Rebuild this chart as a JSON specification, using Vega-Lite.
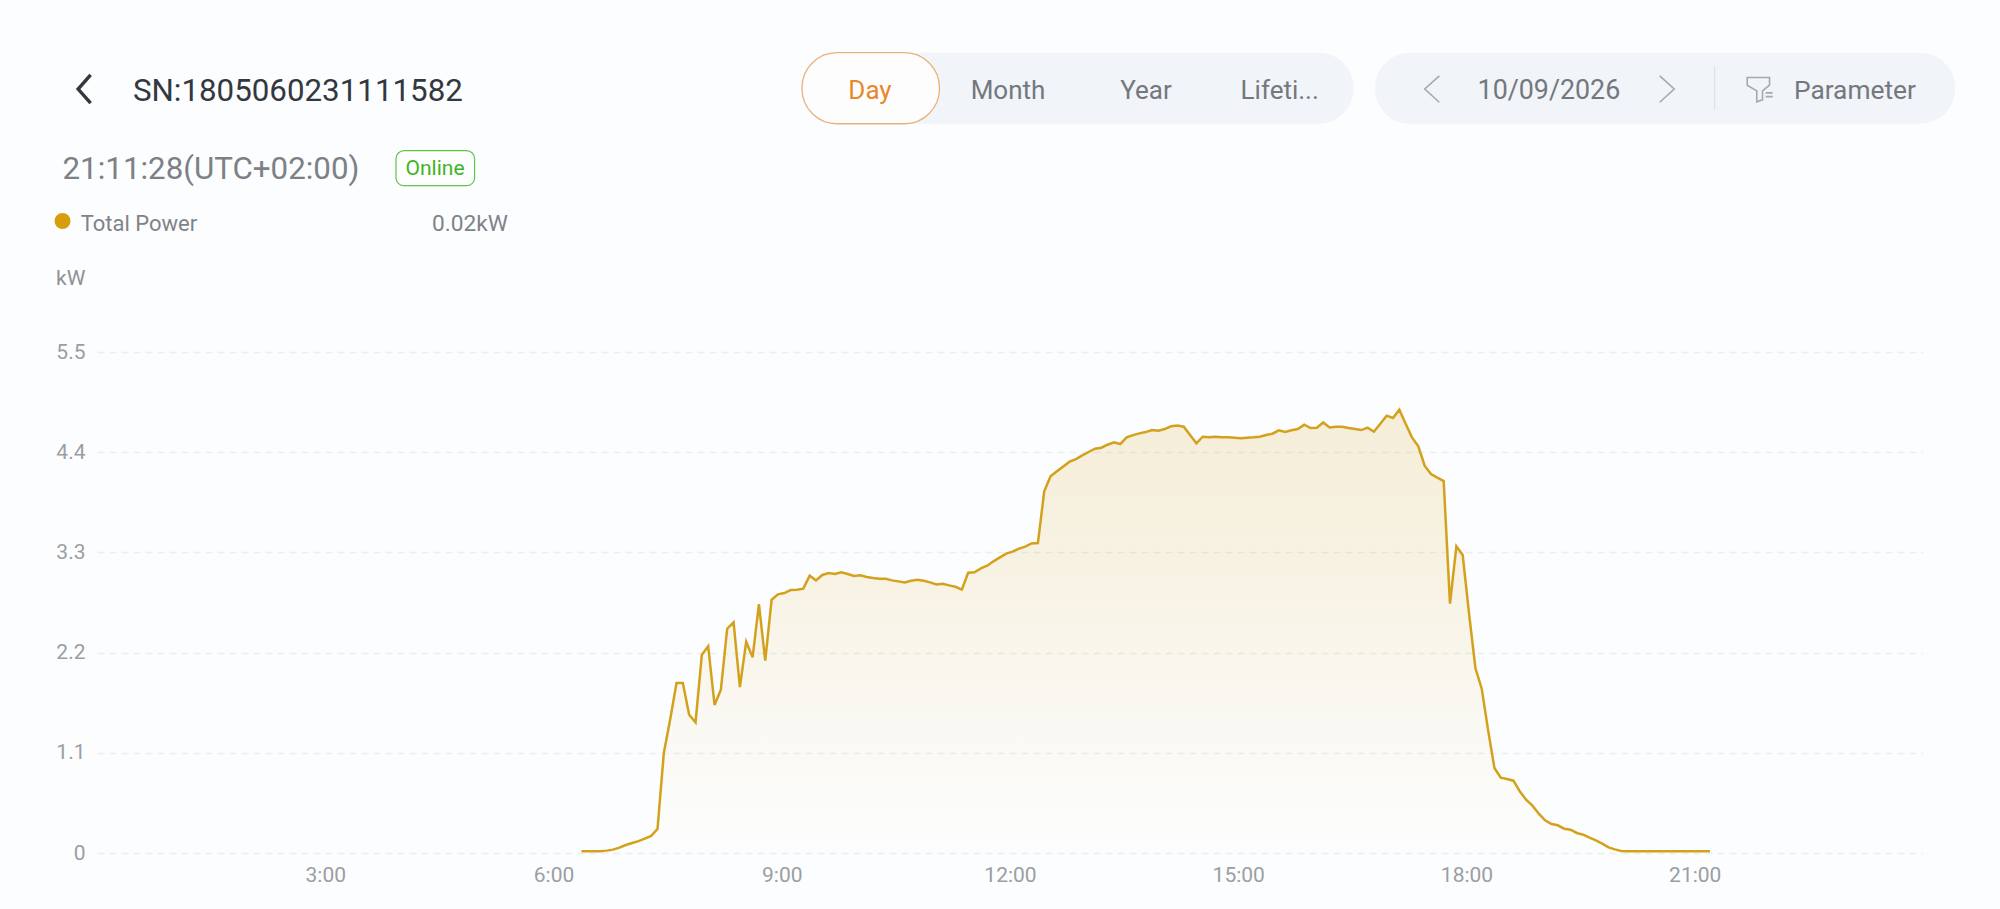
{"$schema":"https://vega.github.io/schema/vega-lite/v6.json","width":1826,"height":501,"autosize":"none","padding":{"left":97,"top":352,"right":77,"bottom":56},"background":"#fcfdfe","config":{"view":{"stroke":null},"text":{"font":"Roboto"},"axis":{"labelFont":"Roboto"}},
"datasets":{"power":[
{"hour":6.367,"kW":0.02},{"hour":6.45,"kW":0.02},{"hour":6.533,"kW":0.02},{"hour":6.617,"kW":0.02},{"hour":6.7,"kW":0.026},{"hour":6.783,"kW":0.037},{"hour":6.867,"kW":0.059},{"hour":6.95,"kW":0.088},{"hour":7.033,"kW":0.11},{"hour":7.117,"kW":0.13},{"hour":7.2,"kW":0.157},{"hour":7.283,"kW":0.187},
{"hour":7.367,"kW":0.263},{"hour":7.45,"kW":1.098},{"hour":7.533,"kW":1.464},{"hour":7.617,"kW":1.866},{"hour":7.7,"kW":1.866},{"hour":7.783,"kW":1.518},{"hour":7.867,"kW":1.434},{"hour":7.95,"kW":2.177},{"hour":8.033,"kW":2.269},{"hour":8.117,"kW":1.625},{"hour":8.2,"kW":1.793},{"hour":8.283,"kW":2.462},
{"hour":8.367,"kW":2.532},{"hour":8.45,"kW":1.822},{"hour":8.533,"kW":2.32},{"hour":8.617,"kW":2.148},{"hour":8.7,"kW":2.733},{"hour":8.783,"kW":2.111},{"hour":8.867,"kW":2.781},{"hour":8.95,"kW":2.839},{"hour":9.033,"kW":2.854},{"hour":9.117,"kW":2.887},{"hour":9.2,"kW":2.891},{"hour":9.283,"kW":2.902},
{"hour":9.367,"kW":3.044},{"hour":9.45,"kW":2.993},{"hour":9.533,"kW":3.052},{"hour":9.617,"kW":3.074},{"hour":9.7,"kW":3.063},{"hour":9.783,"kW":3.081},{"hour":9.867,"kW":3.063},{"hour":9.95,"kW":3.041},{"hour":10.033,"kW":3.048},{"hour":10.117,"kW":3.03},{"hour":10.2,"kW":3.019},{"hour":10.283,"kW":3.011},
{"hour":10.367,"kW":3.011},{"hour":10.45,"kW":2.993},{"hour":10.533,"kW":2.982},{"hour":10.617,"kW":2.971},{"hour":10.7,"kW":2.989},{"hour":10.783,"kW":3.0},{"hour":10.867,"kW":2.989},{"hour":10.95,"kW":2.971},{"hour":11.033,"kW":2.949},{"hour":11.117,"kW":2.956},{"hour":11.2,"kW":2.938},{"hour":11.283,"kW":2.923},
{"hour":11.367,"kW":2.891},{"hour":11.45,"kW":3.077},{"hour":11.533,"kW":3.081},{"hour":11.617,"kW":3.125},{"hour":11.7,"kW":3.154},{"hour":11.783,"kW":3.202},{"hour":11.867,"kW":3.245},{"hour":11.95,"kW":3.286},{"hour":12.033,"kW":3.308},{"hour":12.117,"kW":3.341},{"hour":12.2,"kW":3.363},{"hour":12.283,"kW":3.399},
{"hour":12.367,"kW":3.403},{"hour":12.45,"kW":3.97},{"hour":12.533,"kW":4.135},{"hour":12.617,"kW":4.19},{"hour":12.7,"kW":4.244},{"hour":12.783,"kW":4.296},{"hour":12.867,"kW":4.325},{"hour":12.95,"kW":4.365},{"hour":13.033,"kW":4.402},{"hour":13.117,"kW":4.438},{"hour":13.2,"kW":4.449},{"hour":13.283,"kW":4.482},
{"hour":13.367,"kW":4.508},{"hour":13.45,"kW":4.49},{"hour":13.533,"kW":4.563},{"hour":13.617,"kW":4.588},{"hour":13.7,"kW":4.607},{"hour":13.783,"kW":4.621},{"hour":13.867,"kW":4.643},{"hour":13.95,"kW":4.636},{"hour":14.033,"kW":4.654},{"hour":14.117,"kW":4.684},{"hour":14.2,"kW":4.694},{"hour":14.283,"kW":4.68},
{"hour":14.367,"kW":4.588},{"hour":14.45,"kW":4.497},{"hour":14.533,"kW":4.57},{"hour":14.617,"kW":4.563},{"hour":14.7,"kW":4.57},{"hour":14.783,"kW":4.563},{"hour":14.867,"kW":4.563},{"hour":14.95,"kW":4.559},{"hour":15.033,"kW":4.552},{"hour":15.117,"kW":4.559},{"hour":15.2,"kW":4.563},{"hour":15.283,"kW":4.57},
{"hour":15.367,"kW":4.588},{"hour":15.45,"kW":4.603},{"hour":15.533,"kW":4.64},{"hour":15.617,"kW":4.621},{"hour":15.7,"kW":4.64},{"hour":15.783,"kW":4.654},{"hour":15.867,"kW":4.702},{"hour":15.95,"kW":4.665},{"hour":16.033,"kW":4.669},{"hour":16.117,"kW":4.727},{"hour":16.2,"kW":4.672},{"hour":16.283,"kW":4.68},
{"hour":16.367,"kW":4.68},{"hour":16.45,"kW":4.665},{"hour":16.533,"kW":4.654},{"hour":16.617,"kW":4.643},{"hour":16.7,"kW":4.669},{"hour":16.783,"kW":4.625},{"hour":16.867,"kW":4.713},{"hour":16.95,"kW":4.801},{"hour":17.033,"kW":4.775},{"hour":17.117,"kW":4.866},{"hour":17.2,"kW":4.713},{"hour":17.283,"kW":4.563},
{"hour":17.367,"kW":4.464},{"hour":17.45,"kW":4.252},{"hour":17.533,"kW":4.16},{"hour":17.617,"kW":4.12},{"hour":17.7,"kW":4.083},{"hour":17.783,"kW":2.737},{"hour":17.867,"kW":3.366},{"hour":17.95,"kW":3.271},{"hour":18.033,"kW":2.634},{"hour":18.117,"kW":2.031},{"hour":18.2,"kW":1.804},{"hour":18.283,"kW":1.354},
{"hour":18.367,"kW":0.933},{"hour":18.45,"kW":0.827},{"hour":18.533,"kW":0.812},{"hour":18.617,"kW":0.794},{"hour":18.7,"kW":0.677},{"hour":18.783,"kW":0.585},{"hour":18.867,"kW":0.52},{"hour":18.95,"kW":0.432},{"hour":19.033,"kW":0.359},{"hour":19.117,"kW":0.318},{"hour":19.2,"kW":0.304},{"hour":19.283,"kW":0.267},
{"hour":19.367,"kW":0.256},{"hour":19.45,"kW":0.22},{"hour":19.533,"kW":0.201},{"hour":19.617,"kW":0.168},{"hour":19.7,"kW":0.139},{"hour":19.783,"kW":0.102},{"hour":19.867,"kW":0.062},{"hour":19.95,"kW":0.04},{"hour":20.033,"kW":0.022},{"hour":20.117,"kW":0.02},{"hour":20.2,"kW":0.02},{"hour":20.283,"kW":0.02},
{"hour":20.367,"kW":0.02},{"hour":20.45,"kW":0.02},{"hour":20.533,"kW":0.02},{"hour":20.617,"kW":0.02},{"hour":20.7,"kW":0.02},{"hour":20.783,"kW":0.02},{"hour":20.867,"kW":0.02},{"hour":20.95,"kW":0.02},{"hour":21.033,"kW":0.02},{"hour":21.117,"kW":0.02},{"hour":21.2,"kW":0.02}
],"one":[{"panel":"header"}]},
"layer":[
{"data":{"name":"power"},"mark":{"type":"area","clip":false,"color":{"gradient":"linear","x1":0,"y1":0,"x2":0,"y2":1,"stops":[{"offset":0,"color":"rgba(212,161,28,0.17)"},{"offset":0.35,"color":"rgba(212,161,28,0.12)"},{"offset":0.7,"color":"rgba(212,161,28,0.05)"},{"offset":1,"color":"rgba(212,161,28,0.005)"}]}},
 "encoding":{"x":{"field":"hour","type":"quantitative","scale":{"domain":[0,24],"nice":false,"zero":false},"axis":{"values":[3,6,9,12,15,18,21],"labelExpr":"datum.value + ':00'","title":null,"grid":false,"domain":false,"ticks":false,"tickSize":0,"labelFontSize":21,"labelColor":"#9b9ea3","labelPadding":11.5,"labelFlush":false,"labelOverlap":false}},
 "y":{"field":"kW","type":"quantitative","scale":{"domain":[0,5.5],"nice":false},"axis":{"values":[0,1.1,2.2,3.3,4.4,5.5],"format":".1~f","title":null,"grid":true,"gridColor":"#eceef0","gridWidth":1.5,"gridDash":[7,5],"domain":false,"ticks":false,"tickSize":0,"labelFontSize":21,"labelColor":"#9b9ea3","labelPadding":12,"labelOverlap":false}}}},
{"data":{"name":"power"},"mark":{"type":"line","color":"#d4a11c","strokeWidth":2.5,"interpolate":"linear"},"encoding":{"x":{"field":"hour","type":"quantitative"},"y":{"field":"kW","type":"quantitative"}}},
{"data":{"name":"one"},"mark":{"type":"rect","color":"#f1f4f8","cornerRadius":35},"encoding":{"x":{"datum":9.266,"type":"quantitative"},"x2":{"datum":16.515},"y":{"datum":8.786,"type":"quantitative"},"y2":{"datum":8.006}}},
{"data":{"name":"one"},"mark":{"type":"rect","color":"#f1f4f8","cornerRadius":35},"encoding":{"x":{"datum":16.798,"type":"quantitative"},"x2":{"datum":24.421},"y":{"datum":8.786,"type":"quantitative"},"y2":{"datum":8.006}}},
{"data":{"name":"one"},"mark":{"type":"rect","fill":"#fdfdfe","stroke":"#eab27a","strokeWidth":1.3,"cornerRadius":35},"encoding":{"x":{"datum":9.266,"type":"quantitative"},"x2":{"datum":11.073},"y":{"datum":8.786,"type":"quantitative"},"y2":{"datum":8.006}}},
{"data":{"name":"one"},"mark":{"type":"rect","fill":"#fdfefd","stroke":"#62c44a","strokeWidth":1.2,"cornerRadius":8},"encoding":{"x":{"datum":3.93,"type":"quantitative"},"x2":{"datum":4.963},"y":{"datum":7.71,"type":"quantitative"},"y2":{"datum":7.326}}},
{"data":{"name":"one"},"mark":{"type":"rule","color":"#dfe2e6","strokeWidth":1.2},"encoding":{"x":{"datum":21.261,"type":"quantitative"},"y":{"datum":8.64,"type":"quantitative"},"y2":{"datum":8.156}}},
{"data":{"name":"one"},"mark":{"type":"point","shape":"M 0.44 -1 L -0.44 0 L 0.44 1","size":807,"filled":false,"stroke":"#33383f","strokeWidth":3.4,"opacity":1},"encoding":{"x":{"datum":-0.166,"type":"quantitative"},"y":{"datum":8.387,"type":"quantitative"}}},
{"data":{"name":"one"},"mark":{"type":"point","shape":"M 0.55 -1 L -0.55 0 L 0.55 1","size":700,"filled":false,"stroke":"#a6a9ad","strokeWidth":1.6,"opacity":1},"encoding":{"x":{"datum":17.547,"type":"quantitative"},"y":{"datum":8.387,"type":"quantitative"}}},
{"data":{"name":"one"},"mark":{"type":"point","shape":"M -0.55 -1 L 0.55 0 L -0.55 1","size":700,"filled":false,"stroke":"#a6a9ad","strokeWidth":1.6,"opacity":1},"encoding":{"x":{"datum":20.635,"type":"quantitative"},"y":{"datum":8.387,"type":"quantitative"}}},
{"data":{"name":"one"},"mark":{"type":"point","shape":"M -1 -0.9 L 0.75 -0.9 L 0.75 -0.3 L 0.2 0.15 L 0.2 0.85 L -0.25 1 L -0.25 0.15 L -1 -0.3 Z M 0.45 0.3 L 1 0.3 M 0.45 0.6 L 1 0.6","size":650,"filled":false,"stroke":"#a6a9ad","strokeWidth":1.6,"opacity":1},"encoding":{"x":{"datum":21.857,"type":"quantitative"},"y":{"datum":8.387,"type":"quantitative"}}},
{"data":{"name":"one"},"mark":{"type":"point","shape":"circle","size":254,"filled":true,"color":"#d69e0a","opacity":1},"encoding":{"x":{"datum":-0.453,"type":"quantitative"},"y":{"datum":6.938,"type":"quantitative"}}},
{"data":{"name":"one"},"mark":{"type":"text","text":"SN:1805060231111582","fontSize":31.3,"color":"#33383f","align":"left","baseline":"middle"},"encoding":{"x":{"datum":0.472,"type":"quantitative"},"y":{"datum":8.355,"type":"quantitative"}}},
{"data":{"name":"one"},"mark":{"type":"text","text":"21:11:28(UTC+02:00)","fontSize":31.3,"color":"#7d8186","align":"left","baseline":"middle"},"encoding":{"x":{"datum":-0.453,"type":"quantitative"},"y":{"datum":7.5,"type":"quantitative"}}},
{"data":{"name":"one"},"mark":{"type":"text","text":"Online","fontSize":21,"color":"#3cb524","align":"center","baseline":"middle"},"encoding":{"x":{"datum":4.443,"type":"quantitative"},"y":{"datum":7.505,"type":"quantitative"}}},
{"data":{"name":"one"},"mark":{"type":"text","text":"Total Power","fontSize":22,"color":"#7f8388","align":"left","baseline":"middle"},"encoding":{"x":{"datum":-0.215,"type":"quantitative"},"y":{"datum":6.907,"type":"quantitative"}}},
{"data":{"name":"one"},"mark":{"type":"text","text":"0.02kW","fontSize":22.7,"color":"#7f8388","align":"left","baseline":"middle"},"encoding":{"x":{"datum":4.403,"type":"quantitative"},"y":{"datum":6.907,"type":"quantitative"}}},
{"data":{"name":"one"},"mark":{"type":"text","text":"kW","fontSize":21,"color":"#8e9196","align":"left","baseline":"middle"},"encoding":{"x":{"datum":-0.539,"type":"quantitative"},"y":{"datum":6.303,"type":"quantitative"}}},
{"data":{"name":"one"},"mark":{"type":"text","text":"Day","fontSize":26,"color":"#e9872a","align":"center","baseline":"middle"},"encoding":{"x":{"datum":10.16,"type":"quantitative"},"y":{"datum":8.36,"type":"quantitative"}}},
{"data":{"name":"one"},"mark":{"type":"text","text":"Month","fontSize":26,"color":"#74787e","align":"center","baseline":"middle"},"encoding":{"x":{"datum":11.974,"type":"quantitative"},"y":{"datum":8.36,"type":"quantitative"}}},
{"data":{"name":"one"},"mark":{"type":"text","text":"Year","fontSize":26,"color":"#74787e","align":"center","baseline":"middle"},"encoding":{"x":{"datum":13.787,"type":"quantitative"},"y":{"datum":8.36,"type":"quantitative"}}},
{"data":{"name":"one"},"mark":{"type":"text","text":"Lifeti...","fontSize":26,"color":"#74787e","align":"center","baseline":"middle"},"encoding":{"x":{"datum":15.545,"type":"quantitative"},"y":{"datum":8.36,"type":"quantitative"}}},
{"data":{"name":"one"},"mark":{"type":"text","text":"10/09/2026","fontSize":26.8,"color":"#74787e","align":"center","baseline":"middle"},"encoding":{"x":{"datum":19.083,"type":"quantitative"},"y":{"datum":8.36,"type":"quantitative"}}},
{"data":{"name":"one"},"mark":{"type":"text","text":"Parameter","fontSize":26.3,"color":"#74787e","align":"left","baseline":"middle"},"encoding":{"x":{"datum":22.304,"type":"quantitative"},"y":{"datum":8.36,"type":"quantitative"}}}
]}
